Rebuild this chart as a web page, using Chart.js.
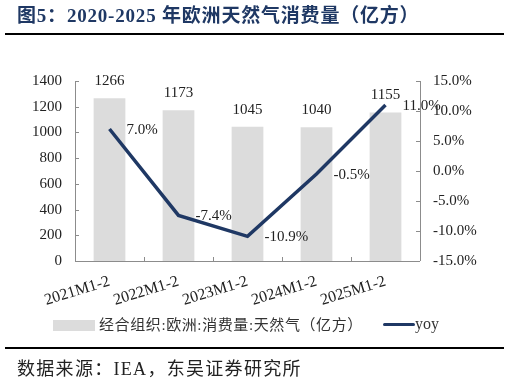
<!DOCTYPE html>
<html>
<head>
<meta charset="utf-8">
<script src="https://cdn.jsdelivr.net/npm/chart.js@4/dist/chart.umd.min.js"></script>
<style>
  html, body { margin: 0; padding: 0; background: #fff; }
  body { width: 509px; height: 383px; position: relative; overflow: hidden;
         font-family: "Liberation Serif", "Noto Sans CJK SC", serif; }
  #wrap { position: absolute; left: 0; top: 0; width: 509px; height: 383px; }
  .title { position: absolute; left: 17px; top: 6px; font-size: 19px; line-height: 20px;
           font-weight: bold; color: #1f3864; white-space: nowrap; letter-spacing: 0.8px; }
  .rule { position: absolute; left: 5px; width: 499px; height: 2px; background: #000; }
  .legend { position: absolute; top: 317px; left: 53px; font-size: 15px; line-height: 16px;
            color: #333; white-space: nowrap; }
  .legend .box { position: absolute; left: 0; top: 3px; width: 42px; height: 11px; background: #dcdcdc; }
  .legend .t1 { position: absolute; left: 46px; top: 0; letter-spacing: 0.6px; }
  .legend .ln { position: absolute; left: 330px; top: 6px; width: 32px; height: 3px; background: #1f3864; border-radius: 2px; }
  .legend .t2 { position: absolute; left: 362px; top: -1px; font-size: 16px; }
  .source { position: absolute; left: 17px; top: 359px; font-size: 18px; line-height: 20px; color: #222;
            white-space: nowrap; letter-spacing: 1.3px; }
</style>
</head>
<body>
<div id="wrap"><canvas id="gasChart" width="509" height="383"></canvas></div>
<div class="title">图5：2020-2025 年欧洲天然气消费量（亿方）</div>
<div class="rule" style="top:33px"></div>
<div class="legend">
  <span class="box"></span><span class="t1">经合组织:欧洲:消费量:天然气（亿方）</span>
  <span class="ln"></span><span class="t2">yoy</span>
</div>
<div class="rule" style="top:347px"></div>
<div class="source">数据来源：IEA，东吴证券研究所</div>
<script>
const categories = ['2021M1-2', '2022M1-2', '2023M1-2', '2024M1-2', '2025M1-2'];
const consumption = [1266, 1173, 1045, 1040, 1155];
const yoy = [7.0, -7.4, -10.9, -0.5, 11.0];

const leftTicks = { min: 0, max: 1400, step: 200 };
const rightTicks = { min: -15, max: 15, step: 5 };

const serif = '"Liberation Serif", "Times New Roman", serif';
const axisColor = '#8c8c8c';
const navy = '#1f3864';

// axis lines + small inward tick marks
const axesPlugin = {
    id: 'axesPlugin',
    afterDraw(chart) {
        const c = chart.ctx;
        const a = chart.chartArea;
        const x = chart.scales.x;
        const y = chart.scales.y;
        const y1 = chart.scales.y1;
        c.save();
        c.strokeStyle = axisColor;
        c.lineWidth = 1;
        c.beginPath();
        c.moveTo(a.left + 0.5, a.top);
        c.lineTo(a.left + 0.5, a.bottom);
        c.moveTo(a.right + 0.5, a.top);
        c.lineTo(a.right + 0.5, a.bottom);
        c.moveTo(a.left, a.bottom + 0.5);
        c.lineTo(a.right, a.bottom + 0.5);
        y.ticks.forEach((t, i) => {
            const py = Math.round(y.getPixelForTick(i)) + 0.5;
            c.moveTo(a.left, py);
            c.lineTo(a.left + 4, py);
        });
        y1.ticks.forEach((t, i) => {
            const py = Math.round(y1.getPixelForTick(i)) + 0.5;
            c.moveTo(a.right - 4, py);
            c.lineTo(a.right, py);
        });
        for (let i = 1; i < categories.length; i++) {
            const px = Math.round((x.getPixelForValue(i - 1) + x.getPixelForValue(i)) / 2) + 0.5;
            c.moveTo(px, a.bottom);
            c.lineTo(px, a.bottom - 4);
        }
        c.stroke();
        c.restore();
    }
};

// value labels
const labelPlugin = {
    id: 'labelPlugin',
    afterDatasetsDraw(chart) {
        const c = chart.ctx;
        c.save();
        c.font = '15px ' + serif;
        c.fillStyle = '#222';
        c.textBaseline = 'middle';

        const barMeta = chart.getDatasetMeta(1);
        c.textAlign = 'center';
        barMeta.data.forEach((bar, i) => {
            c.fillText(String(consumption[i]), bar.x, bar.y - 17);
        });

        const lineMeta = chart.getDatasetMeta(0);
        c.textAlign = 'left';
        lineMeta.data.forEach((pt, i) => {
            c.fillText(yoy[i].toFixed(1) + '%', pt.x + 17, pt.y + 1);
        });
        c.restore();
    }
};

const ctx = document.getElementById('gasChart').getContext('2d');

new Chart(ctx, {
    data: {
        labels: categories,
        datasets: [{
            type: 'line',
            label: 'yoy',
            data: yoy,
            yAxisID: 'y1',
            borderColor: navy,
            borderWidth: 3.5,
            pointRadius: 0,
            tension: 0,
            order: 1
        }, {
            type: 'bar',
            label: '经合组织:欧洲:消费量:天然气（亿方）',
            data: consumption,
            yAxisID: 'y',
            backgroundColor: '#dcdcdc',
            categoryPercentage: 1,
            barPercentage: 0.46,
            order: 2
        }]
    },
    options: {
        responsive: false,
        animation: false,
        layout: {
            padding: { left: 30, right: 0, top: 81, bottom: 72 }
        },
        plugins: {
            legend: { display: false },
            tooltip: { enabled: false }
        },
        scales: {
            x: {
                grid: { display: false, drawTicks: false },
                border: { display: false },
                ticks: {
                    font: { family: serif, size: 16 },
                    color: '#222',
                    minRotation: 17,
                    maxRotation: 17,
                    autoSkip: false,
                    padding: 11
                },
                afterFit(scale) { scale.height = 50; }
            },
            y: {
                position: 'left',
                min: leftTicks.min,
                max: leftTicks.max,
                grid: { display: false, drawTicks: false },
                border: { display: false },
                ticks: {
                    stepSize: leftTicks.step,
                    font: { family: serif, size: 15 },
                    color: '#222',
                    padding: 13,
                    callback: v => String(v)
                },
                afterFit(scale) { scale.width = 45; }
            },
            y1: {
                position: 'right',
                min: rightTicks.min,
                max: rightTicks.max,
                grid: { display: false, drawTicks: false },
                border: { display: false },
                ticks: {
                    stepSize: rightTicks.step,
                    font: { family: serif, size: 15 },
                    color: '#222',
                    padding: 13,
                    callback: v => v.toFixed(1) + '%'
                },
                afterFit(scale) { scale.width = 89; }
            }
        }
    },
    plugins: [axesPlugin, labelPlugin]
});
</script>
</body>
</html>
